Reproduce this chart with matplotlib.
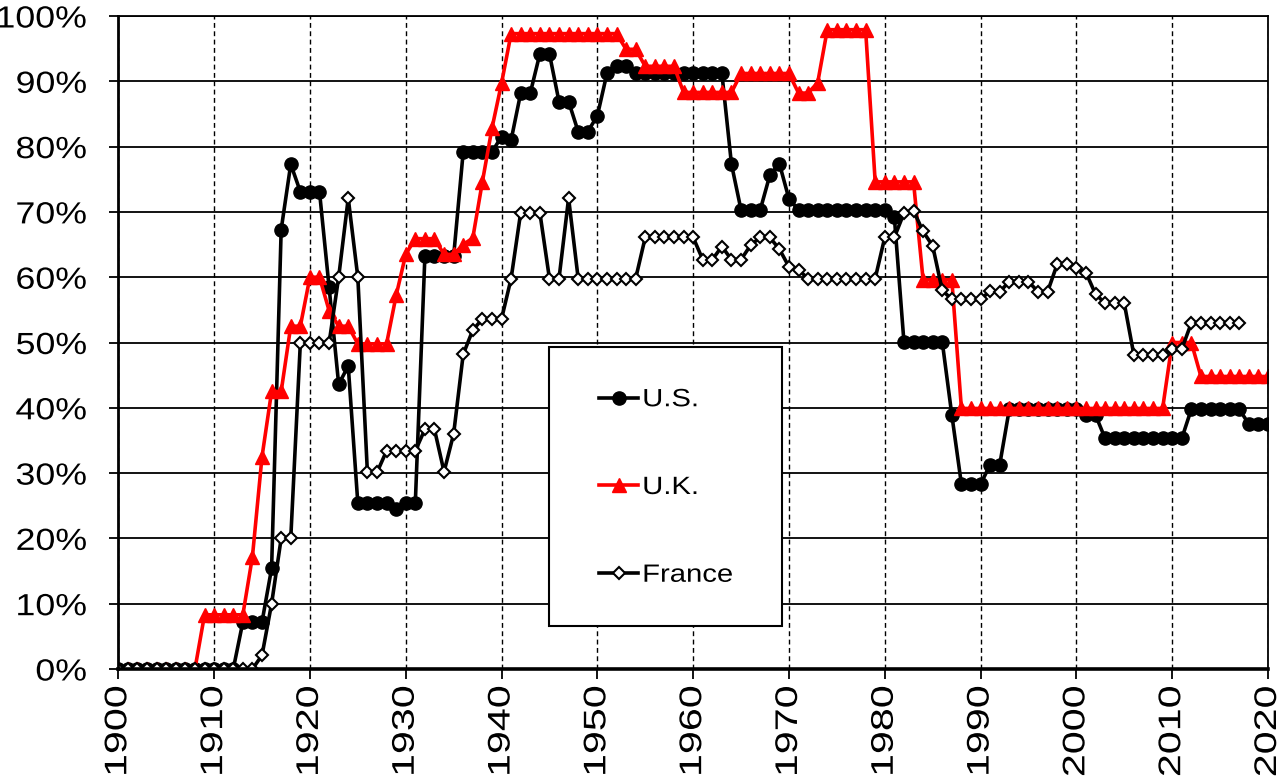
import numpy as np
import matplotlib
matplotlib.use("Agg")
import matplotlib.pyplot as plt
from matplotlib.transforms import Affine2D
from matplotlib.patheffects import AbstractPathEffect
from matplotlib.patches import Rectangle

# ---------------- data (percent) ----------------
us_start = 1900
us_values = (
    [0.0] * 13 + [7.2] * 3 + [15.4, 67.3, 77.3] + [73.1] * 3 + [58.5, 43.6, 46.4]
    + [25.4] * 4 + [24.5] + [25.4] * 2 + [63.2] * 4 + [79.2] * 4 + [81.5, 81.0]
    + [88.2] * 2 + [94.2] * 2 + [86.9] * 2 + [82.3] * 2 + [84.7, 91.2] + [92.3] * 2
    + [91.2] * 10 + [77.3] + [70.3] * 3 + [75.6, 77.4, 72.0] + [70.3] * 10 + [69.2]
    + [50.1] * 5 + [38.9] + [28.3] * 3 + [31.3] * 2 + [39.8] * 8 + [38.9] * 2
    + [35.3] * 9 + [39.8] * 6 + [37.5] * 3
)

uk_start = 1900
uk_values = (
    [0.0] * 9 + [8.3] * 5 + [17.2, 32.5] + [42.5] * 2 + [52.5] * 2 + [60.0] * 2
    + [54.9] + [52.5] * 2 + [49.8] * 4 + [57.2, 63.5] + [65.9] * 3 + [63.5] * 2
    + [65.0, 66.0, 74.6, 82.8, 89.7] + [97.3] * 12 + [94.9] * 2 + [92.3] * 4
    + [88.3] * 6 + [91.2] * 6 + [88.2] * 2 + [89.8] + [97.9] * 5 + [74.6] * 5
    + [59.6] * 4 + [39.9] * 22 + [50.0] * 3 + [44.8] * 8
)

fr_start = 1900
fr_values = (
    [0.0] * 15 + [2.1, 10.0] + [20.0] * 2 + [49.9] * 4 + [60.0, 72.1, 60.0]
    + [30.1] * 2 + [33.4] * 4 + [36.7] * 2 + [30.2, 36.0, 48.2, 51.9] + [53.6] * 3
    + [59.8] + [69.9] * 3 + [59.8] * 2 + [72.1] + [59.8] * 7 + [66.1] * 6
    + [62.7] * 2 + [64.7] + [62.7] * 2 + [64.9] + [66.1] * 2 + [64.3, 61.6, 61.1]
    + [59.8] * 8 + [66.1] * 2 + [69.8, 70.2, 67.0, 64.8, 58.0] + [56.6] * 4
    + [57.9, 57.8] + [59.3] * 3 + [57.8] * 2 + [62.0] * 2 + [61.4, 60.7, 57.4]
    + [56.0] * 3 + [48.1] * 4 + [49.0] * 2 + [53.0] * 6
)

series_labels = ["U.S.", "U.K.", "France"]
x_ticks = [1900, 1910, 1920, 1930, 1940, 1950, 1960, 1970, 1980, 1990, 2000, 2010, 2020]
y_ticks = [0, 10, 20, 30, 40, 50, 60, 70, 80, 90, 100]
y_ticklabels = ["0%", "10%", "20%", "30%", "40%", "50%", "60%", "70%", "80%", "90%", "100%"]

us_years = np.arange(us_start, us_start + len(us_values))
uk_years = np.arange(uk_start, uk_start + len(uk_values))
fr_years = np.arange(fr_start, fr_start + len(fr_values))


# Horizontal text stretch (reference font is rendered wide)
class Stretch(AbstractPathEffect):
    def __init__(self, sx=1.17, anchor="start"):
        super().__init__()
        self.sx = sx
        self.anchor = anchor

    def draw_path(self, renderer, gc, tpath, affine, rgbFace=None):
        if len(tpath.vertices) == 0:
            return
        ext = tpath.get_extents()
        a = ext.x0 if self.anchor == "start" else ext.x1
        t = Affine2D().translate(-a, 0).scale(self.sx, 1).translate(a, 0)
        renderer.draw_path(gc, tpath, t + affine, rgbFace)


plt.rcParams["font.family"] = ["Liberation Sans", "DejaVu Sans"]

W, H = 1286, 776
fig = plt.figure(figsize=(W / 100, H / 100), dpi=100)
x_left, x_right = 118.3, 1268.0
y_top, y_bot = 16.0, 669.0
ax = fig.add_axes([x_left / W, (H - y_bot) / H, (x_right - x_left) / W, (y_bot - y_top) / H])

ax.set_xlim(1900, 2020)
ax.set_ylim(0, 100)

# grid
ax.set_axisbelow(True)
for yv in y_ticks:
    ax.axhline(yv, color="black", lw=1.3, zorder=0.5)
for xv in x_ticks:
    ax.axvline(xv, color="black", lw=1.0, ls=(0, (3.5, 2.5)), zorder=0.5)

ax.plot(us_years, us_values, color="black", lw=2.6, marker="o", ms=9.5,
        mfc="black", mec="black", label=series_labels[0], zorder=3)
ax.plot(uk_years, uk_values, color="#ff0000", lw=2.6, marker="^", ms=10,
        mfc="#ff0000", mec="#ff0000", label=series_labels[1], zorder=4)
ax.plot(fr_years, fr_values, color="black", lw=2.6, marker="D", ms=5.8,
        mfc="white", mec="black", mew=1.5, label=series_labels[2], zorder=5)

ax.spines["left"].set_linewidth(2.0)
ax.spines["bottom"].set_linewidth(2.6)
ax.spines["top"].set_linewidth(1.3)
ax.spines["right"].set_linewidth(1.3)
for s in ax.spines.values():
    s.set_zorder(6)

ax.set_xticks(x_ticks)
ax.set_xticklabels([str(v) for v in x_ticks], rotation=90)
ax.set_yticks(y_ticks)
ax.set_yticklabels(y_ticklabels)
ax.tick_params(axis="y", direction="out", length=6.5, width=1.3, pad=16, labelsize=22)
ax.tick_params(axis="x", direction="out", length=7, width=1.3, pad=5, labelsize=22.5)

for lbl in ax.get_yticklabels():
    lbl.set_path_effects([Stretch(1.17, "end")])
for lbl in ax.get_xticklabels():
    lbl.set_path_effects([Stretch(1.32, "end")])

# legend box
box = Rectangle((549 / W, (H - 626) / H), 233 / W, 279 / H, transform=fig.transFigure,
                facecolor="white", edgecolor="black", lw=1.5, zorder=7, clip_on=False)
ax.add_patch(box)

leg = ax.legend(loc="center left", bbox_to_anchor=(599 / W, (H - 487) / H),
                bbox_transform=fig.transFigure, frameon=False, fontsize=18,
                handlelength=1.56, handletextpad=0.18, labelspacing=2.55,
                borderpad=0, borderaxespad=0, numpoints=1)
leg.set_zorder(8)
for t in leg.get_texts():
    t.set_path_effects([Stretch(1.17, "start")])

fig.savefig("out.png", dpi=100)
